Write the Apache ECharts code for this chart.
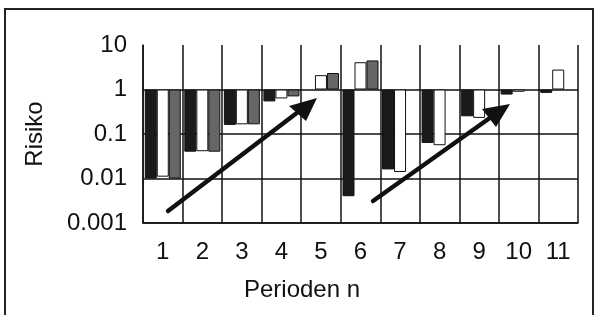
<!DOCTYPE html>
<html>
<head>
<meta charset="utf-8">
<script src="https://cdn.jsdelivr.net/npm/echarts@6/dist/echarts.min.js"></script>
<style>
    html, body { margin: 0; padding: 0; background: #fff; }
    #chart { width: 596px; height: 315px; }
</style>
</head>
<body>
<div id="chart"></div>
<script>
( () => {
    const perioden = [ '1', '2', '3', '4', '5', '6', '7', '8', '9', '10', '11' ];
    const risikoSchwarz = [ 0.01, 0.04, 0.16, 0.54, null, 0.004, 0.016, 0.063, 0.25, 0.77, 0.84 ];
    const risikoWeiss = [ 0.011, 0.041, 0.165, 0.63, 2.1, 4.1, 0.014, 0.056, 0.23, 0.89, 2.8 ];
    const risikoGrau = [ 0.01, 0.04, 0.165, 0.7, 2.35, 4.5, null, null, null, null, null ];
    const yTickLabels = [ '0.001', '0.01', '0.1', '1', '10' ];

    const font = 'Liberation Sans';
    const ink = '#111';

    const chart = echarts.init(
        document.getElementById( 'chart' ),
        null,
        {
            renderer: 'canvas',
        }
    );

    const barSeries = ( name, data, color ) => ( {
        name: name,
        type: 'bar',
        data: data,
        barWidth: 12,
        barGap: '0%',
        itemStyle: {
            color: color,
            borderColor: ink,
            borderWidth: 1,
        },
        emphasis: { disabled: true },
    } );

    const option = {
        animation: false,
        grid: {
            left: 143,
            right: 18,
            top: 45,
            bottom: 92,
        },
        xAxis: {
            type: 'category',
            data: perioden,
            name: 'Perioden n',
            nameLocation: 'middle',
            nameGap: 55,
            nameTextStyle: {
                fontFamily: font,
                fontSize: 24,
                color: ink,
                padding: [ 0, 117, 0, 0 ],
            },
            axisLine: { lineStyle: { color: ink, width: 1.5 } },
            axisTick: { show: false },
            axisLabel: {
                fontFamily: font,
                fontSize: 24,
                color: ink,
                margin: 17,
                interval: 0,
            },
            splitLine: {
                show: true,
                interval: 0,
                lineStyle: { color: ink, width: 1.5 },
            },
        },
        yAxis: {
            type: 'log',
            logBase: 10,
            min: 0.001,
            max: 10,
            name: 'Risiko',
            nameLocation: 'middle',
            nameGap: 96,
            nameTextStyle: {
                fontFamily: font,
                fontSize: 24,
                color: ink,
            },
            axisLine: { show: true, lineStyle: { color: ink, width: 1.5 } },
            axisTick: { show: false },
            axisLabel: {
                fontFamily: font,
                fontSize: 24,
                color: ink,
                margin: 16,
                formatter: ( v ) => yTickLabels[ Math.round( Math.log10( v ) ) + 3 ],
            },
            splitLine: {
                show: true,
                lineStyle: {
                    color: [ ink, ink, ink, ink, 'rgba(0,0,0,0)' ],
                    width: 1.5,
                },
            },
        },
        series: [
            barSeries( 'schwarz', risikoSchwarz, '#1a1a1a' ),
            barSeries( 'weiss', risikoWeiss, '#ffffff' ),
            barSeries( 'grau', risikoGrau, '#666666' ),
        ],
        graphic: [
            {
                type: 'rect',
                shape: { x: 5, y: 9, width: 588, height: 330 },
                style: { fill: null, stroke: '#222', lineWidth: 2 },
                silent: true,
            },
            // Pfeile
            {
                type: 'line',
                shape: { x1: 168, y1: 211, x2: 302, y2: 109 },
                style: { stroke: ink, lineWidth: 4.5, lineCap: 'round' },
                z: 10,
            },
            {
                type: 'polygon',
                shape: { points: [ [ 317, 98 ], [ 289, 106 ], [ 306, 121 ] ] },
                style: { fill: ink },
                z: 10,
            },
            {
                type: 'line',
                shape: { x1: 373, y1: 201, x2: 494, y2: 115 },
                style: { stroke: ink, lineWidth: 4.5, lineCap: 'round' },
                z: 10,
            },
            {
                type: 'polygon',
                shape: { points: [ [ 510, 104 ], [ 482, 109 ], [ 496, 127 ] ] },
                style: { fill: ink },
                z: 10,
            },
        ],
    };

    chart.setOption( option );
} ) ();
</script>
</body>
</html>
